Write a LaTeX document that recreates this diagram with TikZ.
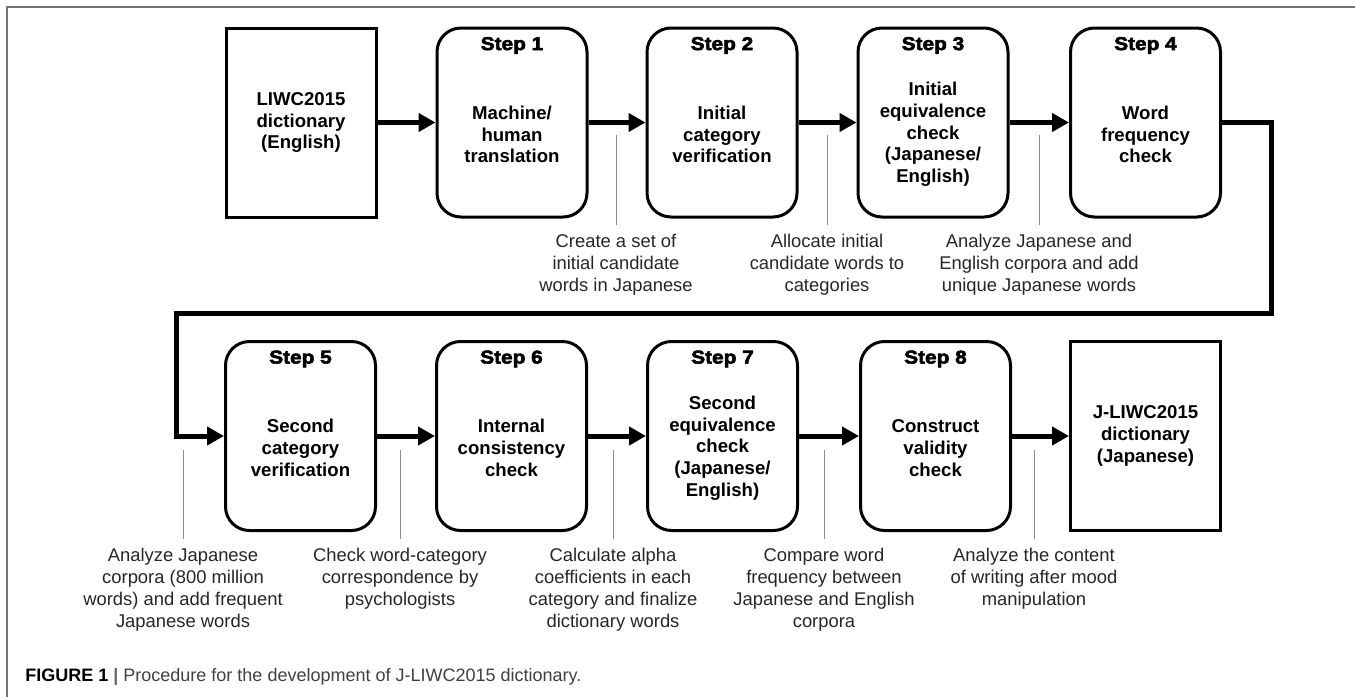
\documentclass[tikz,border=0pt]{standalone}
\usepackage{fontspec}
\setmainfont{Liberation Sans}
\newfontface\stepfont{Liberation Sans Bold}[FakeBold=3, FakeStretch=1.12]
\usetikzlibrary{arrows.meta,calc}

\tikzset{
  stepbox/.style={draw, line width=1.5pt, rounded corners=12pt, minimum width=75pt, minimum height=94.5pt, inner sep=0pt},
  dictbox/.style={draw, line width=1.5pt, minimum width=75pt, minimum height=94.5pt, inner sep=0pt},
  steplabel/.style={font=\stepfont\fontsize{9.3}{11}\selectfont, inner sep=0pt},
  boxtext/.style={font=\bfseries\fontsize{9.3}{10.85}\selectfont, align=center, inner sep=0pt},
  note/.style={font=\fontsize{9.2}{11}\selectfont, align=center, inner xsep=0pt, inner ysep=4.5pt, anchor=north, text=black!85},
  noteline/.style={draw=black!45, line width=0.5pt},
  flow/.style={line width=2.5pt, -{Triangle[length=8.5pt,width=9pt]}, line join=miter}
}

\begin{document}
\begin{tikzpicture}[x=0.5pt,y=-0.5pt]
        \useasboundingbox (0,0) rectangle (1355,697);
        \draw[black!55, line width=0.6pt] (7,697) -- (7,7) -- (1355,7);

        \node[dictbox] (b0) at (301,122.5) {};
        \node[stepbox] (s1) at (512,122.5) {};
        \node[stepbox] (s2) at (722,122.5) {};
        \node[stepbox] (s3) at (933,122.5) {};
        \node[stepbox] (s4) at (1145.5,122.5) {};
        \node[stepbox] (s5) at (300.5,436) {};
        \node[stepbox] (s6) at (511.5,436) {};
        \node[stepbox] (s7) at (722.5,436) {};
        \node[stepbox] (s8) at (935.5,436) {};
        \node[dictbox] (b9) at (1145.5,436) {};

        \foreach \n in {1,...,8}
            \node[steplabel] at ($(s\n.north)+(0,19)$) {Step \n};

        \node[boxtext] at (b0) {LIWC2015\\dictionary\\(English)};
        \node[boxtext] at ($(s1)+(0,12)$) {Machine/\\human\\translation};
        \node[boxtext] at ($(s2)+(0,12)$) {Initial\\category\\verification};
        \node[boxtext] at ($(s3)+(0,12)$) {Initial\\equivalence\\check\\(Japanese/\\English)};
        \node[boxtext] at ($(s4)+(0,12)$) {Word\\frequency\\check};
        \node[boxtext] at ($(s5)+(0,12)$) {Second\\category\\verification};
        \node[boxtext] at ($(s6)+(0,12)$) {Internal\\consistency\\check};
        \node[boxtext] at ($(s7)+(0,12)$) {Second\\equivalence\\check\\(Japanese/\\English)};
        \node[boxtext] at ($(s8)+(0,12)$) {Construct\\validity\\check};
        \node[boxtext] at (b9) {J-LIWC2015\\dictionary\\(Japanese)};

        \draw[flow] (b0) -- (s1);
        \draw[flow] (s1) -- (s2);
        \draw[flow] (s2) -- (s3);
        \draw[flow] (s3) -- (s4);
        \coordinate (turnA) at (1271,313);
        \coordinate (turnB) at (176,313);
        \draw[flow] (s4.east) -| (turnA) -- (turnB) |- (s5.west);
        \draw[flow] (s5) -- (s6);
        \draw[flow] (s6) -- (s7);
        \draw[flow] (s7) -- (s8);
        \draw[flow] (s8) -- (b9);

        \node[note] (n1) at (616,225) {Create a set of\\initial candidate\\words in Japanese};
        \node[note] (n2) at (827,225) {Allocate initial\\candidate words to\\categories};
        \node[note] (n3) at (1039,225) {Analyze Japanese and\\English corpora and add\\unique Japanese words};
        \node[note] (m1) at (183,539) {Analyze Japanese\\corpora (800 million\\words) and add frequent\\Japanese words};
        \node[note] (m2) at (400,539) {Check word-category\\correspondence by\\psychologists};
        \node[note] (m3) at (613,539) {Calculate alpha\\coefficients in each\\category and finalize\\dictionary words};
        \node[note] (m4) at (824,539) {Compare word\\frequency between\\Japanese and English\\corpora};
        \node[note] (m5) at (1034,539) {Analyze the content\\of writing after mood\\manipulation};

        \coordinate (c1) at (616,135);
        \coordinate (c2) at (827,135);
        \coordinate (c3) at (1039,135);
        \coordinate (d1) at (183,450);
        \coordinate (d2) at (400,450);
        \coordinate (d3) at (613,450);
        \coordinate (d4) at (824,450);
        \coordinate (d5) at (1034,450);
        \draw[noteline] (c1) -- (n1);
        \draw[noteline] (c2) -- (n2);
        \draw[noteline] (c3) -- (n3);
        \draw[noteline] (d1) -- (m1);
        \draw[noteline] (d2) -- (m2);
        \draw[noteline] (d3) -- (m3);
        \draw[noteline] (d4) -- (m4);
        \draw[noteline] (d5) -- (m5);

        \node[anchor=base west, inner sep=0pt, font=\fontsize{9}{11}\selectfont] (cap) at (25,681)
            {\textbf{FIGURE 1} {\color{black!60}\bfseries|} {\color{black!75}Procedure for the development of J-LIWC2015 dictionary.}};
    \end{tikzpicture}
\end{document}
